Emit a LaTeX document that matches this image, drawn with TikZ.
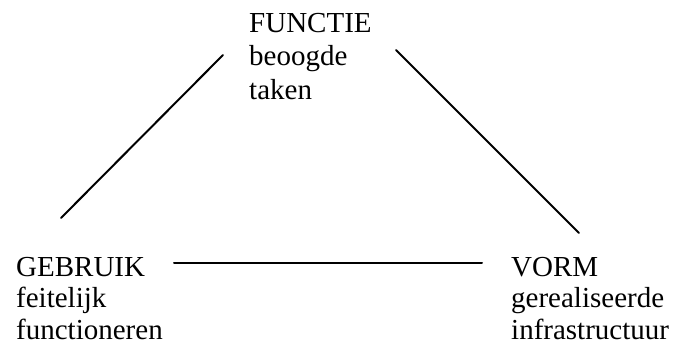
\documentclass[tikz,border=0pt]{standalone}
\usepackage{fontspec}
\setmainfont{Liberation Serif}
\begin{document}
\begin{tikzpicture}[x=1pt,y=-1pt,
  lbl/.style={anchor=base west,inner sep=0pt,font=\fontsize{29}{33}\selectfont},
  conn/.style={line width=2pt,line cap=round}]
\useasboundingbox (0,0) rectangle (673,347);
% top group
\node[lbl] (functie) at (249,33) {FUNCTIE};
\node[lbl] (functie2) at (249,66) {beoogde};
\node[lbl] (functie3) at (249,100) {taken};
% left group
\node[lbl] (gebruik) at (16,277) {GEBRUIK};
\node[lbl] (gebruik2) at (16,308) {feitelijk};
\node[lbl] (gebruik3) at (16,340) {functioneren};
% right group
\node[lbl] (vorm) at (511,277) {VORM};
\node[lbl] (vorm2) at (511,308) {gerealiseerde};
\node[lbl] (vorm3) at (511,340) {infrastructuur};
% connector ends
\coordinate (gL) at (61,218);
\coordinate (fL) at (223,55);
\coordinate (fR) at (396,50);
\coordinate (vR) at (579,233);
\coordinate (gH) at (174,263);
\coordinate (vH) at (482,263);
\draw[conn] (gL) -- (fL);
\draw[conn] (fR) -- (vR);
\draw[conn] (gH) -- (vH);
\end{tikzpicture}
\end{document}
